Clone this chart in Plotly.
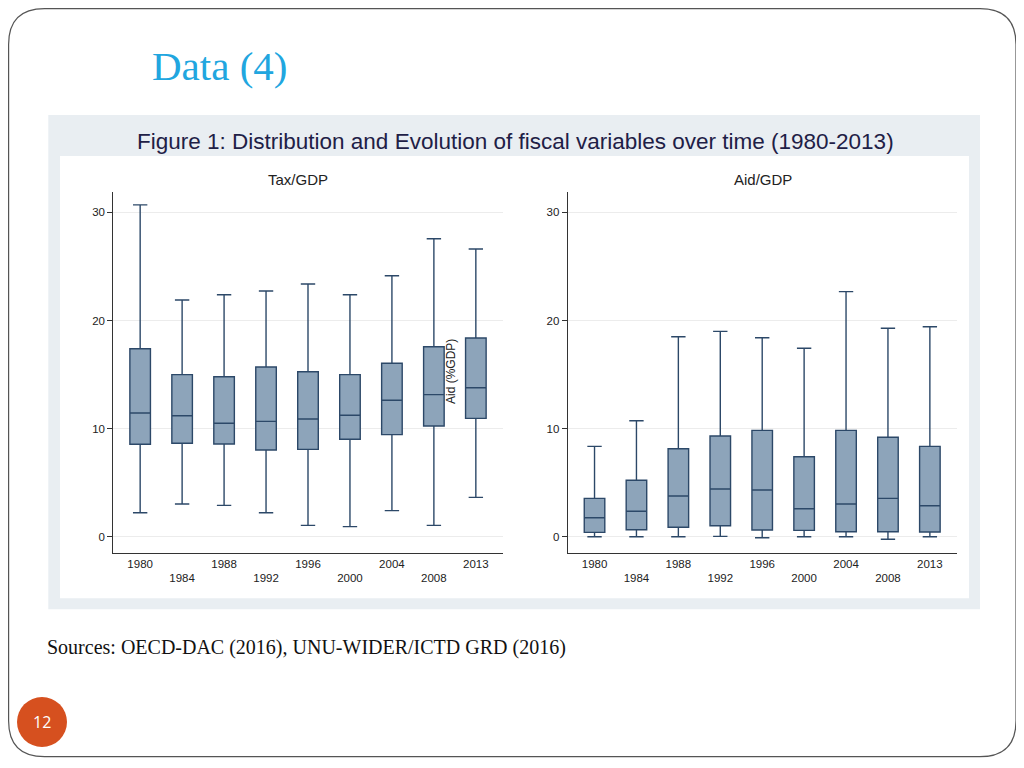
import plotly.graph_objects as go

# ---------------- data ----------------
years = ["1980", "1984", "1988", "1992", "1996", "2000", "2004", "2008", "2013"]

tax_lower  = [2.22, 3.02, 2.90, 2.22, 1.05, 0.93, 2.41, 1.05, 3.64]
tax_q1     = [8.55, 8.64, 8.58, 8.02, 8.08, 9.01, 9.44, 10.24, 10.95]
tax_median = [11.44, 11.19, 10.49, 10.67, 10.89, 11.23, 12.62, 13.14, 13.78]
tax_q3     = [17.39, 14.99, 14.80, 15.70, 15.26, 14.99, 16.04, 17.58, 18.38]
tax_upper  = [30.70, 21.90, 22.39, 22.73, 23.38, 22.39, 24.14, 27.57, 26.61]

aid_lower  = [0.00, 0.00, 0.00, 0.03, -0.09, 0.00, 0.00, -0.24, 0.00]
aid_q1     = [0.40, 0.65, 0.87, 1.02, 0.62, 0.59, 0.46, 0.46, 0.43]
aid_median = [1.76, 2.35, 3.76, 4.41, 4.32, 2.59, 3.02, 3.55, 2.87]
aid_q3     = [3.55, 5.22, 8.14, 9.31, 9.84, 7.40, 9.84, 9.20, 8.36]
aid_upper  = [8.36, 10.73, 18.50, 19.00, 18.41, 17.43, 22.67, 19.28, 19.43]

y_ticks = [0, 10, 20, 30]

# ---------------- helpers ----------------
# the page places the figure 8px from the top-left corner (default body margin)
OX, OY = 8, 8
W, H = 1016, 752
def fx(x):
    return (x - OX) / W
def fy(y):
    return 1 - (y - OY) / H

pos = list(range(len(years)))
ticktext = [y if i % 2 == 0 else "<br>" + y for i, y in enumerate(years)]

BOX_FILL = "#8da4ba"
BOX_LINE = "#2c4868"

fig = go.Figure()
for xa, ya, lo, q1, me, q3, up in [
    ("x", "y", tax_lower, tax_q1, tax_median, tax_q3, tax_upper),
    ("x2", "y2", aid_lower, aid_q1, aid_median, aid_q3, aid_upper),
]:
    fig.add_trace(go.Box(
        x=pos, lowerfence=lo, q1=q1, median=me, q3=q3, upperfence=up,
        xaxis=xa, yaxis=ya, boxpoints=False, width=0.49, whiskerwidth=0.7,
        fillcolor=BOX_FILL, line=dict(color=BOX_LINE, width=1.4),
        showlegend=False, hoverinfo="skip",
    ))

axis_font = dict(family="Liberation Sans, Arial", size=11.5, color="#222222")
xcommon = dict(range=[-0.64, 8.64], tickmode="array", tickvals=pos, ticktext=ticktext,
               showgrid=False, zeroline=False, showline=True, linecolor="#333333",
               linewidth=1, ticks="", tickfont=axis_font, fixedrange=True)
ycommon = dict(range=[-1.48, 31.89], tickmode="array", tickvals=y_ticks,
               showgrid=True, gridcolor="#ececec", gridwidth=1, zeroline=False,
               showline=True, linecolor="#333333", linewidth=1, ticks="outside",
               ticklen=5, tickcolor="#333333", tickfont=axis_font, fixedrange=True)

fig.update_layout(
    width=W, height=H,
    margin=dict(l=0, r=0, t=0, b=0),
    paper_bgcolor="white", plot_bgcolor="rgba(0,0,0,0)",
    xaxis=dict(domain=[fx(113.3), fx(502.7)], anchor="y", **xcommon),
    yaxis=dict(domain=[fy(552.7), fy(192)], anchor="x", **ycommon),
    xaxis2=dict(domain=[fx(567.7), fx(956.7)], anchor="y2", **xcommon),
    yaxis2=dict(domain=[fy(552.7), fy(192)], anchor="x2", **ycommon),
)

# ---------------- shapes ----------------
shapes = []
# slide border with rounded corners
L, T, R, B, r = 8.6, 8.6, 1016.0, 756.7, 36
path = (f"M {fx(L + r)},{fy(T)} L {fx(R - r)},{fy(T)} "
        f"Q {fx(R)},{fy(T)} {fx(R)},{fy(T + r)} "
        f"L {fx(R)},{fy(B - r)} Q {fx(R)},{fy(B)} {fx(R - r)},{fy(B)} "
        f"L {fx(L + r)},{fy(B)} Q {fx(L)},{fy(B)} {fx(L)},{fy(B - r)} "
        f"L {fx(L)},{fy(T + r)} Q {fx(L)},{fy(T)} {fx(L + r)},{fy(T)} Z")
shapes.append(dict(type="path", xref="paper", yref="paper", path=path,
                   line=dict(color="#555555", width=1.2), fillcolor="rgba(0,0,0,0)",
                   layer="below"))
# graph background
shapes.append(dict(type="rect", xref="paper", yref="paper",
                   x0=fx(48.3), x1=fx(980), y0=fy(609.3), y1=fy(115),
                   fillcolor="#e9eef2", line=dict(width=0), layer="below"))
shapes.append(dict(type="rect", xref="paper", yref="paper",
                   x0=fx(60), x1=fx(969), y0=fy(598.3), y1=fy(156),
                   fillcolor="white", line=dict(width=0), layer="below"))
# page number circle
shapes.append(dict(type="circle", xref="paper", yref="paper",
                   x0=fx(17), x1=fx(67), y0=fy(747), y1=fy(697),
                   fillcolor="#d6501f", line=dict(width=0), layer="above"))
fig.update_layout(shapes=shapes)

# ---------------- text ----------------
ann = []
ann.append(dict(text="Data (4)", x=fx(219), y=fy(66), xref="paper", yref="paper",
                showarrow=False, xanchor="center", yanchor="middle",
                font=dict(family="Liberation Serif, Times New Roman", size=41, color="#21a6df")))
ann.append(dict(text="Figure 1: Distribution and Evolution of fiscal variables over time (1980-2013)",
                x=fx(515), y=fy(141), xref="paper", yref="paper", showarrow=False,
                xanchor="center", yanchor="middle",
                font=dict(family="Liberation Sans, Arial", size=22.5, color="#1e2046")))
ann.append(dict(text="Tax/GDP", x=fx(298), y=fy(180), xref="paper", yref="paper",
                showarrow=False, xanchor="center", yanchor="middle",
                font=dict(family="Liberation Sans, Arial", size=15, color="#222222")))
ann.append(dict(text="Aid/GDP", x=fx(763), y=fy(180), xref="paper", yref="paper",
                showarrow=False, xanchor="center", yanchor="middle",
                font=dict(family="Liberation Sans, Arial", size=15, color="#222222")))
ann.append(dict(text="Aid (%GDP)", x=fx(451), y=fy(372), xref="paper", yref="paper",
                showarrow=False, xanchor="center", yanchor="middle", textangle=-90,
                font=dict(family="Liberation Sans, Arial", size=12, color="#222222")))
ann.append(dict(text="Sources: OECD-DAC (2016), UNU-WIDER/ICTD GRD (2016)",
                x=fx(45), y=fy(647), xref="paper", yref="paper", showarrow=False,
                xanchor="left", yanchor="middle",
                font=dict(family="Liberation Serif, Times New Roman", size=20, color="#111111")))
ann.append(dict(text="12", x=fx(42), y=fy(722), xref="paper", yref="paper",
                showarrow=False, xanchor="center", yanchor="middle",
                font=dict(family="Open Sans, Liberation Sans", size=16, color="white")))
fig.update_layout(annotations=ann)

fig.write_html("out.html")
